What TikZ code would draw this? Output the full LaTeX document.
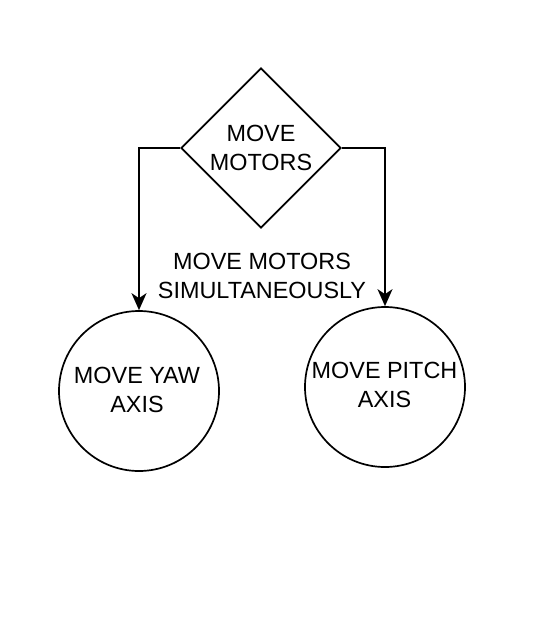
\documentclass[tikz,border=0pt]{standalone}
\usepackage{fontspec}
\setmainfont{Liberation Sans}
\usetikzlibrary{shapes.geometric,arrows.meta}
\begin{document}
\begin{tikzpicture}[x=1pt,y=-1pt,
  every node/.style={font=\fontsize{23.4}{29}\selectfont, align=center, inner sep=0pt},
  shapeline/.style={draw=black, line width=1.7pt},
  conn/.style={draw=black, line width=1.7pt, -{Stealth[length=17pt,width=15pt,inset=5pt]}}]
\useasboundingbox (0,0) rectangle (538,622);
\node[shapeline, diamond, minimum width=160pt, minimum height=160pt] (d) at (261,148) {};
\node (dt) at (261,148) {MOVE\\MOTORS};
\node[shapeline, circle, minimum size=160pt] (yaw) at (139,391) {};
\node (yawt) at (137,390) {MOVE YAW\\AXIS};
\node[shapeline, circle, minimum size=160pt] (pitch) at (385,387) {};
\node (pitcht) at (384.5,385) {MOVE PITCH\\AXIS};
\node (lbl) at (262,276) {MOVE MOTORS\\SIMULTANEOUSLY};
\draw[conn] (d.west) -| (yaw.north);
\draw[conn] (d.east) -| (pitch.north);
\end{tikzpicture}
\end{document}
